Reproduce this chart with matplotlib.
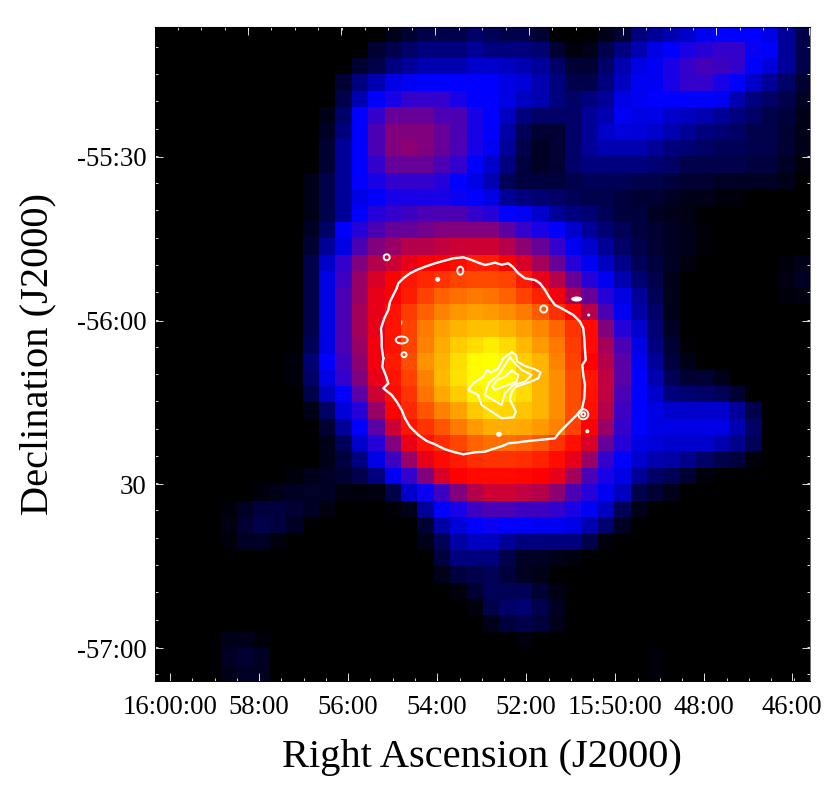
import numpy as np
import matplotlib
matplotlib.use("Agg")
import matplotlib.pyplot as plt
from matplotlib.colors import LinearSegmentedColormap
from matplotlib.patches import Ellipse

# Smoothed flux map: (first non-zero column, values) per row
flux_rows = [
 (14,[1,2,3,3,3,4,3.5,3,3,2,0,0,0,1,2,5,6,7,8,9.5,10,10,10,9,6,3]),
 (13,[2,3,4,5,5,5,6,5,5,5,4.5,2,.5,1,3,5,7,9,10,11,11.5,12,12,10.5,10,6,3]),
 (12,[2,3,5,6,7,7,7,8,8,7.5,7,6,4,2,2,4,7,9,9.5,11,12,12.7,12.5,12,10,8.5,6,3]),
 (11,[2,5,7,9,9.5,10,10,10,10,10,9,8.5,7,5,3,3,5,7.5,9.5,9.5,11,12,12,11,10,8,6,4,2]),
 (11,[3,7,10,11,12,12,12,11,10,10,9,7.5,7,5,4,5,6,9,9.5,10,10,10,10,9.5,7,5,4,3,1.5]),
 (10,[1,4,10,12,14,14,14,13,13,11,10,7.5,5,4,4,4,6,7,9.5,9,9,8,7.5,7,6,5,4,3,2.5,1]),
 (10,[1.5,5,10,13,15,15,15,14,13,11,10,6.5,3.5,2,2,4,6,8,8.5,8.5,8,7,6,5,4.5,4,3,3,2,1]),
 (10,[2,6,10,13,15,15.5,15,14,13,11,9.5,6,3,1.5,2,4,6,7,7,7,6,5,4.5,4,3.5,3.5,3,3,2,1]),
 (10,[2,6,10,12,14,14,14,13,12,10,8,5,2.5,1.5,2,4,5,5,5,5,4.5,4,3,3,3,3,2.5,2.5,1.5,.5]),
 (9,[1,3,6,10,11,12,12,12,11.5,10,9,7,3.5,2.5,2.5,2.5,3,3.5,3.5,3.5,3,3,2.5,2,2,1.5,1.5,1.5,1.5,1]),
 (9,[1,3,6,9,10,11,11,11,11,10.5,10,9,6,5,4.5,4,3.5,3,3,2.5,2,2,1.5,1,1,.5,.5,.2]),
 (9,[1,3,6,10,11.5,12,12.5,13,13,13,12,11.5,10,9.5,8,6,5,4.5,3.5,2.5,2.5,1.5,1,.8,.2]),
 (9,[1.5,4,10,11.5,13,14,14,14.5,15,15,15,15,13.5,12,11,10,8,6,4.5,3.5,2.5,2,1.5,1,.3]),
 (9,[2,6,9,13,15,16,17,17,17.5,18,18,18,17,15.5,14,12,9.5,8,6,4,3,2,1.5,1,.3]),
 (9,[3,8,12,15,17,18,19,20,20,20.5,21,21,20,18.5,16.5,14,11.5,9.5,7.5,5.5,3.5,2.5,1.5,.7,0,0,0,0,0,.5,1]),
 (9,[3,9,12.5,16,18.5,20,20.8,21.5,22,22.5,22.8,22.8,22.5,21,19,17,14,11.5,9.5,7,4.5,3,1,0,0,0,0,0,0,.8,1.5]),
 (9,[3,9,13,16,19,20,21,22.5,23.7,24.3,24.7,24.4,23.7,22.5,21.3,19.5,16.5,14,11.5,9,6,3.5,1,0,0,0,0,0,0,.5,.7]),
 (9,[3,9,13,16.5,19,20.7,22.3,23.7,25,25.8,26.2,26,25.5,24.8,23.5,21.8,20.3,17,13,9.5,6.5,4,1]),
 (9,[3,9,13,16.5,19,20.7,22.5,24.8,26.2,27,27.5,27.5,27,26.2,25.2,24,22,20.3,15,11.5,8,4.5,1.5]),
 (8,[.2,3.5,9,13,16,19.5,20.7,22.5,25,26.7,28,28.7,29.2,28.5,27.2,26,24.7,22.3,20.3,16.5,13,9,5,2,.3]),
 (8,[.5,4.5,10,12.5,15.5,19.5,21,23,25.7,27,28.7,29.8,30,29.5,28,27,25,22.5,20,17,13.5,9.5,6,2.5,1]),
 (8,[.5,4,9,12,15,19,20.7,22.5,25,27.2,28.8,29.8,30,29.8,28.3,27,25.5,23,20.8,17.5,13.5,10,7,3.5,2,2,1]),
 (9,[3,7.5,10,13.5,18,20.5,22,24.5,26.5,28,29.3,29.7,29.3,28.5,27,25.5,23,20.7,17.5,13,10,8,5,4.5,4,3.5,2]),
 (9,[1,4,8.5,11.5,16,20,21.5,23.3,25,26.3,27.8,28.5,28.3,27.7,27,25.5,23,20.6,17,12.5,10,9,8,8,8,8,6,3]),
 (10,[2,6,10,13.5,18,20.7,22,23.3,24.8,26,26.8,26.8,26.5,26,25,22.5,20,16,12,10,9,9,9,9,9,7,4]),
 (10,[1,3.5,8,11.5,15,19,20.7,21.7,22.7,23.8,24.3,24.3,24,23.3,22,20.6,18.5,14,11.5,9,8.5,8,8,8,7,5.5,3.5]),
 (10,[1,2.5,5,9,12.5,16,19,20.3,21,21.7,22,22,21.7,21.3,20.5,19,16,12,10,8,7,6.5,5.5,4,3,2.5,.5]),
 (8,[.5,1,1.5,2,3,5,9.5,12,15,18.5,20,20.3,20.3,20.3,20.2,20,19,16.5,13,11,9,6,4,3.5,2,.5]),
 (6,[.5,1,1.5,1.5,1.5,.7,.5,.7,3,8,10.5,12.5,15,17,18,18,17.5,17,15.5,13,11.5,9.5,7.5,3,2,1]),
 (4,[.5,1.5,2.5,2.5,2,1.5,.7,0,0,0,.3,1,6,10,11,12.5,13,13,12.5,12.5,12,11,9.5,7.5,3.5,1]),
 (4,[.7,2,3,2.5,1.5,.2,0,0,0,0,0,0,2,6.5,8.5,10,10.5,10,10,9.5,9.5,9,7,4.5,1.5]),
 (4,[.5,1.5,1.5,.7,0,0,0,0,0,0,0,0,1,3.5,6.5,7.5,7.5,6,5,5,5,5,3,.5]),
 (17,[2.5,5,5,5,3,1.5,1.5,1,.7,.2]),
 (17,[1,2.5,3,3.5,2.5,1.3,1]),
 (18,[.7,2,3.5,3.5,3.5,2,.8]),
 (19,[.7,3,4,4.5,3,1.3]),
 (20,[1,2.5,3,2.5,1]),
 (3,[.1,1,1,.5,0,0,0,0,0,0,0,0,0,0,0,0,0,0,.2,.5]),
 (3,[.1,1.5,2,1.5,0,0,0,0,0,0,0,0,0,0,0,0,0,0,0,0,0,0,0,0,0,0,0,.4]),
 (4,[1,1.5,1.3,0,0,0,0,0,0,0,0,0,0,0,0,0,0,0,0,0,0,0,0,0,0,0,.4]),
]

# Radio contours, in map-plane coordinates
outer_x = [383.3,381.7,381.7,381,384.3,388.3,390,393.3,396.7,398.3,403.3,410,416.7,425,435,443.3,453.3,463.3,471.7,478.3,485,495,501.7,508.3,513.3,518.3,525,535,540,545,550,555,563.3,573.3,580,583.3,584.3,585,585.7,582.3,583.3,585,584.3,581.7,576.7,568.3,560,555,548.3,538.3,528.3,518.3,508.3,503.3,495,485,475,463.3,455,445,435,426.7,418.3,410,405,401.7,396.7,391.7,383.3,388.3,385.7,382.3,383.3]
outer_y = [358.3,346.7,338.3,328.3,318.3,310,301.7,295,288.3,283.3,278.3,273.3,270,266.7,263.3,261,258.3,257.3,260,262.7,265,262.7,264.7,263.3,267.3,273.3,278.3,280,283.3,290,298.3,305,309.3,315,321.7,328.3,338.3,350,360,365,375,385,398.3,410,415,423.3,431.7,438.3,439,440,441,442.3,443.3,445.7,448.3,451.7,452.3,454.3,452.3,449.3,444.3,441,435,426.7,418.3,410,401.7,395,388.3,383.3,375,366.7,358.3]
core_a_x = [511.7,516,517.3,525,535,540.7,538.3,526.7,516,511.7,510,516,513.3,501.7,491.7,481.7,478.3,468.3,473.3,483.3,487.3,490.7,498.3,503.3,511.7]
core_a_y = [352.3,355,361.7,366,369.3,372.3,378.3,383.3,386.7,391.7,400,411.7,417.3,418.3,411.7,405,395,390,383.3,376.7,370,372.7,368.3,358.3,352.3]
core_b_x = [510,515,521.7,531.7,525,513.3,505,501.7,493.3,485,488.3,498.3,505,510]
core_b_y = [357.3,363.3,370,375,381.7,385,393.3,405,400,395,383.3,375,365,357.3]
core_c_x = [511.7,518.3,516.7,503.3,495,492.3,496.7,505,511.7]
core_c_y = [370.7,375,381.7,386.7,390,386.7,380,376.7,370.7]
ring_x = [386.7,460.3,401.7,404,543.7,583.3,583.3]
ring_y = [257.3,270.7,340,354.7,309,414.3,414.3]
ring_w = [6,6,12,5,7,10,4]
ring_h = [6,8,7,5,7,10,4]
spot_x = [437.7,576.7,588.7,587.3,499,401.7]
spot_y = [279.3,299,315,431.3,434.3,322.7]
spot_w = [5,11,3,4,6,1.2]
spot_h = [5,5,3,4,5,5]

ra_labels = ["16:00:00","58:00","56:00","54:00","52:00","15:50:00","48:00","46:00"]
ra_bottom = [170,259,348,436.5,525.5,614.5,703.5,792]
ra_top = [247.7,341.4,435,528.8,622.5,716,808.5]
dec_labels = ["-55:30","-56:00","30","-57:00"]
dec_pos = [157,320.5,484,648]

flux = np.zeros((40,40))
for i,(start,vals) in enumerate(flux_rows):
    flux[i,start:start+len(vals)] = vals[:40-start]

cmap = LinearSegmentedColormap.from_list("ds9b",[(0,"#000000"),(1/3,"#0000ff"),(2/3,"#ff0000"),(1,"#ffff00")])

plt.rcParams['font.family'] = ['Liberation Serif','DejaVu Serif']
fig = plt.figure(figsize=(8.30,7.97),dpi=100)
ax = fig.add_axes([155/830,1-681/797,655/830,654/797])
ax.imshow(flux,cmap=cmap,vmin=0,vmax=30,interpolation='nearest',aspect='auto',extent=(155,810,681,25.3))
ax.set_xlim(155,810); ax.set_ylim(681,27)

for xs,ys,lw in [(outer_x,outer_y,1.7),(core_a_x,core_a_y,1.5),(core_b_x,core_b_y,1.4),(core_c_x,core_c_y,1.4)]:
    ax.plot(xs,ys,color='white',lw=lw,solid_joinstyle='round')
for x,y,w,h in zip(ring_x,ring_y,ring_w,ring_h):
    ax.add_patch(Ellipse((x,y),w,h,fill=False,ec='white',lw=1.4))
for x,y,w,h in zip(spot_x,spot_y,spot_w,spot_h):
    ax.add_patch(Ellipse((x,y),w,h,fc='white',ec='none'))

ax.set_xticks(ra_bottom); ax.set_xticklabels(ra_labels)
ax.set_xticks(np.arange(170,805,22.27),minor=True)
ax.set_yticks(dec_pos); ax.set_yticklabels(dec_labels)
ax.set_yticks(np.arange(46.7,681,27.28),minor=True)
ax.tick_params(which='major',direction='in',color='white',width=0.6,length=5.5,labelsize=19.3,right=True,pad=6)
ax.tick_params(which='minor',direction='in',color='white',width=0.6,length=2.5,right=True)
ax.tick_params(axis='x',which='major',pad=10)
ax.tick_params(axis='y',which='major',pad=6)
top = ax.secondary_xaxis('top')
top.set_xticks(ra_top); top.set_xticklabels([])
top.set_xticks(np.arange(177.7,810,23.42),minor=True)
top.tick_params(which='major',direction='in',color='white',width=0.6,length=5.5)
top.tick_params(which='minor',direction='in',color='white',width=0.6,length=2)
top.spines['top'].set_color('#000000')
for s in ax.spines.values():
    s.set_linewidth(0.7); s.set_color('#000000')
ax.spines['right'].set_color('#777777')

fig.text(482/830,1-757/797,"Right Ascension (J2000)",fontsize=29.2,ha='center',va='center')
fig.text(37.5/830,1-354/797,"Declination (J2000)",fontsize=29.2,ha='center',va='center',rotation=90)
fig.savefig('out.png',dpi=100)
